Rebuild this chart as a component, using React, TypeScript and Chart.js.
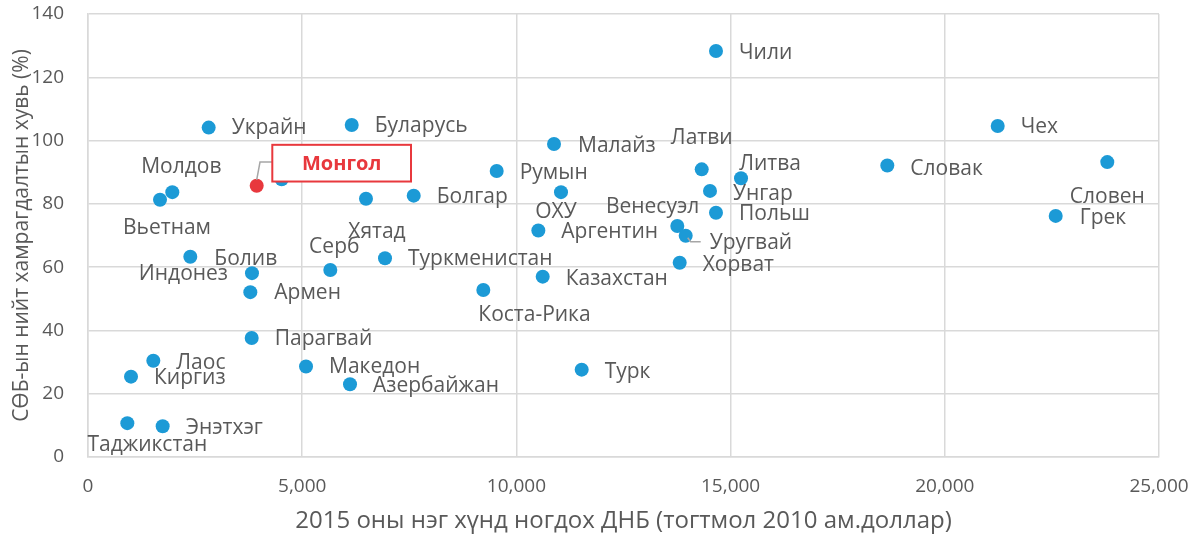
import React, { useEffect, useRef } from 'react';
import { Chart, registerables } from 'chart.js';

Chart.register(...registerables);

// ---- data ----
const countries = [
  'Украйн', 'Буларусь', 'Монгол', '', 'Молдов', 'Вьетнам', 'Хятад', 'Болгар', 'Болив', 'Индонез',
  'Серб', 'Туркменистан', 'Армен', 'Парагвай', 'Лаос', 'Киргиз', 'Македон', 'Азербайжан', 'Таджикстан', 'Энэтхэг',
  'Малайз', 'Румын', 'ОХУ', 'Аргентин', 'Латви', 'Литва', 'Унгар', 'Польш', 'Венесуэл', 'Уругвай',
  'Хорват', 'Казахстан', 'Коста-Рика', 'Турк', 'Чех', 'Словак', 'Словен', 'Грек', 'Чили',
];

const gdpPerCapita = [
  2817, 6156, 3938, 4521, 1968, 1681, 6489, 7603, 2388, 3828,
  5656, 6933, 3789, 3821, 1525, 1004, 5089, 6116, 918, 1743,
  10878, 9540, 11041, 10512, 14326, 15243, 14519, 14659, 13756, 13952,
  13812, 10614, 9228, 11524, 21235, 18658, 23793, 22589, 14659,
];

const enrollmentRate = [
  104.1, 104.9, 85.7, 87.8, 83.7, 81.3, 81.6, 82.6, 63.3, 58.1,
  59.1, 62.8, 52.1, 37.6, 30.4, 25.4, 28.6, 23.0, 10.7, 9.7,
  98.9, 90.4, 83.7, 71.6, 90.9, 88.1, 84.1, 77.2, 73.0, 69.9,
  61.4, 57.0, 52.8, 27.6, 104.6, 92.1, 93.2, 76.2, 128.3,
];

// label placement relative to the point: [dx, dy, textAlign]
const labelPlacement: [number, number, CanvasTextAlign][] = [
  [23, 0, 'left'], [23, 1, 'left'], [0, 0, 'left'], [0, 0, 'left'], [9, -25, 'center'],
  [7, 28, 'center'], [11, 33, 'center'], [23, 1, 'left'], [24, 2, 'left'], [-24, 1, 'right'],
  [4, -23, 'center'], [23, 1, 'left'], [24, 1, 'left'], [23, 1, 'left'], [23, 2, 'left'],
  [23, 1, 'left'], [23, 1, 'left'], [23, 2, 'left'], [20, 22, 'center'], [23, 2, 'left'],
  [24, 2, 'left'], [23, 2, 'left'], [-5, 20, 'center'], [23, 2, 'left'], [0, -31, 'center'],
  [29, -14, 'center'], [23, 3, 'left'], [23, 1, 'left'], [22, -19, 'right'], [24, 7, 'left'],
  [23, 2, 'left'], [23, 2, 'left'], [-5, 25, 'left'], [23, 2, 'left'], [23, 1, 'left'],
  [23, 3, 'left'], [0, 35, 'center'], [24, 2, 'left'], [23, 2, 'left'],
];

const highlightCountry = 'Монгол';
const leaderCountry = 'Уругвай';
const xMax = 25000;
const xStep = 5000;
const yMax = 140;
const yStep = 20;
const xAxisTitle = '2015 оны нэг хүнд ногдох ДНБ (тогтмол 2010 ам.доллар)';
const yAxisTitle = 'СӨБ-ын нийт хамрагдалтын хувь (%)';

const BLUE = '#1c9ad6';
const RED = '#e8383d';
const TEXT = '#595959';
const GRID = '#d9d9d9';
const FONT = '"Open Sans", "DejaVu Sans", sans-serif';

const labelPlugin = {
  id: 'countryLabels',
  afterDatasetsDraw(chart: any) {
    const ctx: CanvasRenderingContext2D = chart.ctx;
    const meta = chart.getDatasetMeta(0);
    ctx.save();
    // Uruguay leader line
    const li = countries.indexOf(leaderCountry);
    if (li >= 0) {
      const p = meta.data[li];
      ctx.strokeStyle = '#a6a6a6';
      ctx.lineWidth = 1.5;
      ctx.beginPath();
      ctx.moveTo(p.x + 2, p.y + 2);
      ctx.lineTo(p.x + 5, p.y + 6);
      ctx.lineTo(p.x + 15, p.y + 6);
      ctx.stroke();
    }
    ctx.font = `21px ${FONT}`;
    ctx.fillStyle = TEXT;
    ctx.textBaseline = 'middle';
    meta.data.forEach((el: any, i: number) => {
      const name = countries[i];
      if (!name || name === highlightCountry) return;
      const [dx, dy, align] = labelPlacement[i];
      ctx.textAlign = align;
      ctx.fillText(name, el.x + dx, el.y + dy);
    });
    // highlighted callout
    const hi = countries.indexOf(highlightCountry);
    if (hi >= 0) {
      const p = meta.data[hi];
      const bx = p.x + 15.6;
      const by = p.y - 41;
      const bw = 138.7;
      const bh = 36.7;
      ctx.strokeStyle = '#a6a6a6';
      ctx.lineWidth = 1.5;
      ctx.beginPath();
      ctx.moveTo(bx, p.y - 23.7);
      ctx.lineTo(p.x + 3.3, p.y - 23.7);
      ctx.lineTo(p.x, p.y - 6);
      ctx.stroke();
      ctx.fillStyle = '#ffffff';
      ctx.fillRect(bx, by, bw, bh);
      ctx.strokeStyle = RED;
      ctx.lineWidth = 2;
      ctx.strokeRect(bx, by, bw, bh);
      ctx.fillStyle = RED;
      ctx.font = `bold 20px ${FONT}`;
      ctx.textAlign = 'center';
      ctx.fillText(highlightCountry, bx + bw / 2, by + bh / 2 + 1);
    }
    ctx.restore();
  },
};

export default function App() {
  const canvasRef = useRef<HTMLCanvasElement | null>(null);

  useEffect(() => {
    document.body.style.margin = '0';
    const canvas = canvasRef.current;
    if (!canvas) return;
    const points = gdpPerCapita.map((x, i) => ({ x, y: enrollmentRate[i] }));
    const chart = new Chart(canvas, {
      type: 'scatter',
      data: {
        datasets: [
          {
            data: points,
            pointRadius: 7,
            pointHoverRadius: 7,
            borderWidth: 0,
            pointBorderWidth: 0,
            pointBackgroundColor: countries.map((c) => (c === highlightCountry ? RED : BLUE)),
            pointBorderColor: countries.map((c) => (c === highlightCountry ? RED : BLUE)),
          },
        ],
      },
      options: {
        responsive: false,
        animation: false,
        events: [],
        layout: { padding: { top: 14, right: 45, left: 0, bottom: 0 } },
        plugins: {
          legend: { display: false },
          tooltip: { enabled: false },
        },
        scales: {
          x: {
            type: 'linear',
            min: 0,
            max: xMax,
            afterFit: (s: any) => {
              s.height = 87;
              s.paddingLeft = 0;
              s.paddingRight = 0;
            },
            ticks: {
              stepSize: xStep,
              color: TEXT,
              font: { family: FONT, size: 19 },
              padding: 18,
              maxRotation: 0,
            },
            grid: { color: GRID, lineWidth: 1.5, drawTicks: false },
            border: { color: GRID, width: 1.5 },
            title: {
              display: true,
              text: xAxisTitle,
              color: TEXT,
              font: { family: FONT, size: 24 },
              padding: { top: 0, bottom: 8 },
            },
          },
          y: {
            type: 'linear',
            min: 0,
            max: yMax,
            afterFit: (s: any) => {
              s.width = 88;
              s.paddingTop = 0;
              s.paddingBottom = 0;
            },
            ticks: {
              stepSize: yStep,
              color: TEXT,
              font: { family: FONT, size: 19 },
              padding: 24,
            },
            grid: { color: GRID, lineWidth: 1.5, drawTicks: false },
            border: { color: GRID, width: 1.5 },
            title: {
              display: true,
              text: yAxisTitle,
              color: TEXT,
              font: { family: FONT, size: 21 },
              padding: { top: 9, bottom: 0 },
            },
          },
        },
      },
      plugins: [labelPlugin],
    });
    return () => chart.destroy();
  }, []);

  return (
    <div style={{ width: 1204, height: 544 }}>
      <canvas ref={canvasRef} width={1204} height={544} />
    </div>
  );
}
